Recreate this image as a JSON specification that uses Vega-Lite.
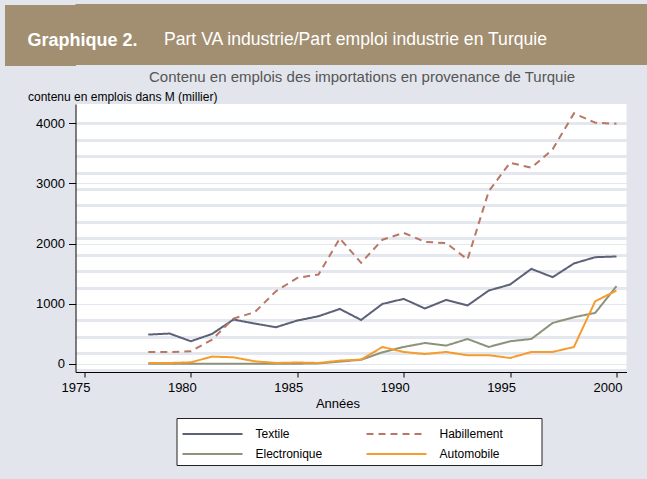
{
  "$schema": "https://vega.github.io/schema/vega-lite/v6.json",
  "background": "#e2e5ec",
  "padding": {"left": -26.5, "top": 4, "right": 0, "bottom": 13},
  "config": {"font": "Liberation Sans", "view": {"stroke": null}, "concat": {"spacing": 4}},
  "vconcat": [
    {
      "width": 572,
      "height": 61,
      "view": {"fill": "#a28f71", "stroke": null},
      "title": {"text": "Graphique 2.", "anchor": "start", "frame": "bounds", "offset": -46, "dx": 53.5, "fontSize": 18, "fontWeight": "bold", "color": "white"},
      "data": {"values": [{"t": "Part VA industrie/Part emploi industrie en Turquie"}]},
      "mark": {"type": "text", "align": "center", "baseline": "middle", "dx": -6, "dy": 5, "fontSize": 17.6, "color": "white", "font": "Liberation Sans"},
      "encoding": {
        "text": {"field": "t", "type": "nominal"},
        "y": {"field": "t", "type": "nominal", "axis": {"labels": false, "title": null, "domain": false, "ticks": true, "tickSize": 71, "tickWidth": 61, "tickColor": "#a28f71", "tickCap": "butt", "grid": false}}
      }
    },
    {
      "width": 551,
      "height": 268,
      "view": {"fill": "white", "stroke": null},
      "title": {"text": "Contenu en emplois des importations en provenance de Turquie", "fontSize": 15, "fontWeight": "normal", "color": "#555555", "dx": 11, "offset": 5},
      "data": {"values": [
        {"year": 1978, "series": "Textile", "value": 489},
        {"year": 1979, "series": "Textile", "value": 506},
        {"year": 1980, "series": "Textile", "value": 378},
        {"year": 1981, "series": "Textile", "value": 500},
        {"year": 1982, "series": "Textile", "value": 739},
        {"year": 1983, "series": "Textile", "value": 672},
        {"year": 1984, "series": "Textile", "value": 611},
        {"year": 1985, "series": "Textile", "value": 722},
        {"year": 1986, "series": "Textile", "value": 794},
        {"year": 1987, "series": "Textile", "value": 915},
        {"year": 1988, "series": "Textile", "value": 732},
        {"year": 1989, "series": "Textile", "value": 998},
        {"year": 1990, "series": "Textile", "value": 1082},
        {"year": 1991, "series": "Textile", "value": 922},
        {"year": 1992, "series": "Textile", "value": 1065},
        {"year": 1993, "series": "Textile", "value": 972},
        {"year": 1994, "series": "Textile", "value": 1221},
        {"year": 1995, "series": "Textile", "value": 1321},
        {"year": 1996, "series": "Textile", "value": 1581},
        {"year": 1997, "series": "Textile", "value": 1443},
        {"year": 1998, "series": "Textile", "value": 1671},
        {"year": 1999, "series": "Textile", "value": 1775},
        {"year": 2000, "series": "Textile", "value": 1787},
        {"year": 1978, "series": "Habillement", "value": 200},
        {"year": 1979, "series": "Habillement", "value": 200},
        {"year": 1980, "series": "Habillement", "value": 211},
        {"year": 1981, "series": "Habillement", "value": 406},
        {"year": 1982, "series": "Habillement", "value": 755},
        {"year": 1983, "series": "Habillement", "value": 860},
        {"year": 1984, "series": "Habillement", "value": 1210},
        {"year": 1985, "series": "Habillement", "value": 1431},
        {"year": 1986, "series": "Habillement", "value": 1487},
        {"year": 1987, "series": "Habillement", "value": 2087},
        {"year": 1988, "series": "Habillement", "value": 1681},
        {"year": 1989, "series": "Habillement", "value": 2065},
        {"year": 1990, "series": "Habillement", "value": 2180},
        {"year": 1991, "series": "Habillement", "value": 2030},
        {"year": 1992, "series": "Habillement", "value": 2008},
        {"year": 1993, "series": "Habillement", "value": 1737},
        {"year": 1994, "series": "Habillement", "value": 2873},
        {"year": 1995, "series": "Habillement", "value": 3345},
        {"year": 1996, "series": "Habillement", "value": 3261},
        {"year": 1997, "series": "Habillement", "value": 3567},
        {"year": 1998, "series": "Habillement", "value": 4166},
        {"year": 1999, "series": "Habillement", "value": 4010},
        {"year": 2000, "series": "Habillement", "value": 3993},
        {"year": 1978, "series": "Electronique", "value": 5},
        {"year": 1979, "series": "Electronique", "value": 5},
        {"year": 1980, "series": "Electronique", "value": 5},
        {"year": 1981, "series": "Electronique", "value": 5},
        {"year": 1982, "series": "Electronique", "value": 5},
        {"year": 1983, "series": "Electronique", "value": 5},
        {"year": 1984, "series": "Electronique", "value": 5},
        {"year": 1985, "series": "Electronique", "value": 5},
        {"year": 1986, "series": "Electronique", "value": 10},
        {"year": 1987, "series": "Electronique", "value": 40},
        {"year": 1988, "series": "Electronique", "value": 70},
        {"year": 1989, "series": "Electronique", "value": 195},
        {"year": 1990, "series": "Electronique", "value": 283},
        {"year": 1991, "series": "Electronique", "value": 349},
        {"year": 1992, "series": "Electronique", "value": 306},
        {"year": 1993, "series": "Electronique", "value": 416},
        {"year": 1994, "series": "Electronique", "value": 283},
        {"year": 1995, "series": "Electronique", "value": 378},
        {"year": 1996, "series": "Electronique", "value": 416},
        {"year": 1997, "series": "Electronique", "value": 682},
        {"year": 1998, "series": "Electronique", "value": 777},
        {"year": 1999, "series": "Electronique", "value": 849},
        {"year": 2000, "series": "Electronique", "value": 1293},
        {"year": 1978, "series": "Automobile", "value": 17},
        {"year": 1979, "series": "Automobile", "value": 17},
        {"year": 1980, "series": "Automobile", "value": 28},
        {"year": 1981, "series": "Automobile", "value": 123},
        {"year": 1982, "series": "Automobile", "value": 111},
        {"year": 1983, "series": "Automobile", "value": 45},
        {"year": 1984, "series": "Automobile", "value": 17},
        {"year": 1985, "series": "Automobile", "value": 25},
        {"year": 1986, "series": "Automobile", "value": 17},
        {"year": 1987, "series": "Automobile", "value": 56},
        {"year": 1988, "series": "Automobile", "value": 73},
        {"year": 1989, "series": "Automobile", "value": 283},
        {"year": 1990, "series": "Automobile", "value": 200},
        {"year": 1991, "series": "Automobile", "value": 166},
        {"year": 1992, "series": "Automobile", "value": 200},
        {"year": 1993, "series": "Automobile", "value": 145},
        {"year": 1994, "series": "Automobile", "value": 145},
        {"year": 1995, "series": "Automobile", "value": 100},
        {"year": 1996, "series": "Automobile", "value": 200},
        {"year": 1997, "series": "Automobile", "value": 200},
        {"year": 1998, "series": "Automobile", "value": 283},
        {"year": 1999, "series": "Automobile", "value": 1043},
        {"year": 2000, "series": "Automobile", "value": 1221}
      ]},
      "mark": {"type": "line", "strokeWidth": 2},
      "encoding": {
        "x": {
          "field": "year", "type": "quantitative",
          "scale": {"domain": [1974.58, 2000.47], "nice": false, "zero": false},
          "axis": {"values": [1975, 1980, 1985, 1990, 1995, 2000], "format": "d", "title": "Années", "grid": false,
            "domainColor": "black", "tickColor": "black", "tickSize": 5, "labelFontSize": 13, "labelColor": "black",
            "labelOffset": -9, "labelPadding": 4, "titleFontSize": 13, "titleFontWeight": "normal", "titleColor": "black",
            "titlePadding": 3, "titleX": 262}
        },
        "y": {
          "field": "value", "type": "quantitative",
          "scale": {"domain": [-133, 4321], "nice": false, "zero": false},
          "axis": {
            "values": [4000, 3727, 3454, 3181, 3000, 2908, 2635, 2362, 2089, 2000, 1816, 1543, 1270, 1000, 724, 451, 178, 0, -95],
            "format": "d",
            "labelExpr": "datum.value % 1000 === 0 && datum.value >= 0 ? datum.label : ''",
            "grid": true, "gridColor": "#e5e7ee",
            "gridWidth": {"condition": {"test": "datum.value % 1000 === 0 && datum.value < 4000", "value": 1}, "value": 3},
            "tickOpacity": {"condition": {"test": "datum.value % 1000 === 0 && datum.value >= 0", "value": 1}, "value": 0},
            "domainColor": "black", "tickColor": "black", "tickSize": 7, "labelFontSize": 13, "labelColor": "black", "labelPadding": 4,
            "title": "contenu en emplois dans M (millier)", "titleAngle": 0, "titleAlign": "left", "titleBaseline": "alphabetic",
            "titleX": -48, "titleY": -4, "titleFontSize": 12, "titleFontWeight": "normal", "titleColor": "black"
          }
        },
        "color": {
          "field": "series", "type": "nominal",
          "scale": {"domain": ["Textile", "Habillement", "Electronique", "Automobile"], "range": ["#5d6178", "#b97766", "#8c937a", "#f59c2c"]},
          "legend": {"title": null, "orient": "none", "legendX": 101, "legendY": 414, "direction": "horizontal", "columns": 2,
            "symbolType": "M-1,0H5", "symbolSize": 400, "symbolStrokeWidth": 2, "labelFontSize": 12, "labelColor": "black",
            "labelExpr": "datum.label + '          \u200b'",
            "fillColor": "white", "strokeColor": "#222222", "padding": 5, "columnPadding": 6, "rowPadding": 3, "labelOffset": 52}
        },
        "strokeDash": {
          "field": "series", "type": "nominal",
          "scale": {"domain": ["Textile", "Habillement", "Electronique", "Automobile"], "range": [[1, 0], [7, 5], [1, 0], [1, 0]]},
          "legend": {"title": null, "orient": "none", "legendX": 101, "legendY": 414, "direction": "horizontal", "columns": 2,
            "symbolType": "M-1,0H5", "symbolSize": 400, "symbolStrokeWidth": 2, "labelFontSize": 12, "labelColor": "black",
            "labelExpr": "datum.label + '          \u200b'",
            "fillColor": "white", "strokeColor": "#222222", "padding": 5, "columnPadding": 6, "rowPadding": 3, "labelOffset": 52}
        }
      }
    }
  ]
}
